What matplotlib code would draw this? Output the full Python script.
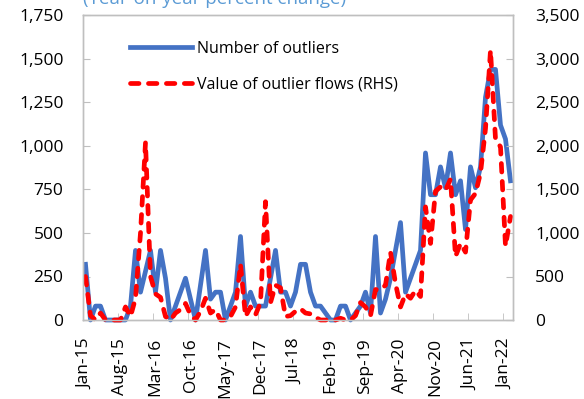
import matplotlib
matplotlib.use('Agg')
import matplotlib.pyplot as plt
from matplotlib.lines import Line2D
import numpy as np

plt.rcParams['font.family'] = ['Open Sans', 'DejaVu Sans']

# Monthly series, Jan-15 .. Feb-22
meses = 86
num_outliers = [320, 0, 80, 80, 0, 0, 0, 0, 0, 80,
                400, 160, 280, 400, 160, 400, 240, 0, 80, 160,
                240, 120, 0, 200, 400, 120, 160, 160, 0, 80,
                160, 480, 80, 160, 80, 80, 80, 240, 400, 160,
                160, 80, 160, 320, 320, 160, 80, 80, 40, 0,
                0, 80, 80, 0, 40, 80, 160, 40, 480, 40,
                120, 240, 400, 560, 160, 240, 320, 400, 960, 720,
                720, 880, 760, 960, 720, 800, 520, 880, 760, 880,
                1280, 1440, 1440, 1120, 1040, 800]
valor_flujos = [500, 50, 0, 80, 0, 0, 0, 0, 150, 40,
                250, 1000, 2040, 500, 300, 260, 40, 0, 80, 120,
                190, 60, 0, 100, 250, 80, 120, 0, 0, 40,
                150, 640, 40, 150, 60, 200, 1360, 200, 400, 370,
                40, 50, 100, 130, 80, 70, 30, 0, 0, 0,
                0, 20, 0, 0, 50, 200, 150, 50, 350, 350,
                400, 780, 420, 150, 300, 250, 340, 270, 1300, 880,
                1480, 1530, 1490, 1620, 730, 880, 780, 1380, 1455, 1690,
                2200, 3100, 2080, 1990, 850, 1190]
etiquetas_x = ['Jan-15', 'Aug-15', 'Mar-16', 'Oct-16', 'May-17', 'Dec-17', 'Jul-18',
               'Feb-19', 'Sep-19', 'Apr-20', 'Nov-20', 'Jun-21', 'Jan-22']
ticks_izq = [0, 250, 500, 750, 1000, 1250, 1500, 1750]
ticks_der = [0, 500, 1000, 1500, 2000, 2500, 3000, 3500]

azul = '#4472C4'
rojo = '#FF0000'
gris = '#BFBFBF'
guiones = (1.8, 2.0)

fig = plt.figure(figsize=(5.84, 3.99), dpi=100)
ax = fig.add_axes([83/584, 1 - 320/399, 430/584, 304.5/399])
ax2 = ax.twinx()

x = np.arange(meses)
ax.plot(x, num_outliers, color=azul, lw=3.4, solid_joinstyle='round', clip_on=False)
ax2.plot(x, valor_flujos, color=rojo, lw=3.4, dashes=guiones,
         dash_capstyle='round', clip_on=False)

ax.set_xlim(-0.5, meses - 0.5)
ax.set_ylim(0, 1750)
ax2.set_ylim(0, 3500)

pos_etiquetas = np.arange(0, meses, 7)
ax.set_xticks(pos_etiquetas)
ax.set_xticklabels(etiquetas_x, rotation=90)
ax.set_xticks(pos_etiquetas - 0.5, minor=True)
ax.tick_params(axis='x', which='major', length=0, pad=13, labelsize=12.5)
ax.tick_params(axis='x', which='minor', direction='in', length=5, color=gris)

ax.set_yticks(ticks_izq)
ax.set_yticklabels([f'{v:,}' for v in ticks_izq])
ax.tick_params(axis='y', direction='in', length=5, color=gris, pad=14, labelsize=12.5)
ax2.set_yticks(ticks_der)
ax2.set_yticklabels([f'{v:,}' for v in ticks_der])
ax2.tick_params(axis='y', direction='in', length=5, color=gris, pad=16, labelsize=12.5)

for a in (ax, ax2):
    for s in a.spines.values():
        s.set_color(gris)
        s.set_linewidth(1)

# Leyenda sin marco
handles = [Line2D([], [], color=azul, lw=3.4),
           Line2D([], [], color=rojo, lw=3.4, dashes=guiones, dash_capstyle='round')]
fig.legend(handles, ['Number of outliers', 'Value of outlier flows (RHS)'],
           loc='center left', bbox_to_anchor=(130/584, 1 - 66.5/399),
           frameon=False, fontsize=11.5, handlelength=3.9, handletextpad=0.3,
           labelspacing=1.25, borderpad=0, borderaxespad=0)

fig.text(83/584, 1 - 4/399, '(Year-on-year percent change)', color='#5B9BD5',
         fontsize=13.5, ha='left', va='baseline')

fig.savefig('out.png', dpi=100)
